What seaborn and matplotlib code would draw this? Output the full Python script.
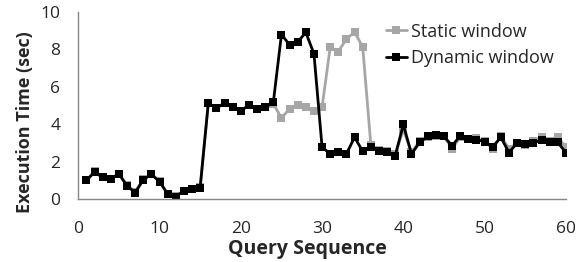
import numpy as np
import pandas as pd
import matplotlib
matplotlib.use("Agg")
import matplotlib.pyplot as plt
import seaborn as sns

# Query numbers 1..60 and execution times
query = list(range(1, 61))
dynamic_window = [1.0, 1.44, 1.16, 1.07, 1.35, 0.71, 0.35, 1.03, 1.32, 0.94,
                  0.27, 0.14, 0.44, 0.53, 0.62, 5.13, 4.87, 5.13, 4.95, 4.72,
                  5.03, 4.81, 4.92, 5.17, 8.80, 8.25, 8.40, 8.91, 7.77, 2.78,
                  2.42, 2.51, 2.42, 3.31, 2.55, 2.81, 2.55, 2.51, 2.32, 3.99,
                  2.41, 3.03, 3.35, 3.44, 3.35, 2.85, 3.39, 3.21, 3.17, 3.08,
                  2.81, 3.30, 2.49, 3.00, 2.96, 3.00, 3.17, 3.03, 3.03, 2.49]
static_window = [1.0, 1.50, 1.20, 1.10, 1.35, 0.75, 0.40, 1.05, 1.35, 0.95,
                 0.30, 0.18, 0.45, 0.55, 0.65, 5.13, 4.87, 5.13, 4.95, 4.72,
                 5.03, 4.81, 4.92, 5.10, 4.33, 4.83, 5.04, 4.95, 4.69, 4.92,
                 8.13, 7.89, 8.56, 8.93, 8.13, 2.90, 2.60, 2.55, 2.40, 3.70,
                 2.50, 3.10, 3.30, 3.40, 3.35, 2.70, 3.30, 3.20, 3.25, 3.10,
                 2.70, 3.35, 2.70, 3.00, 2.90, 3.10, 3.30, 3.10, 3.30, 2.80]

df = pd.DataFrame({
    "Query": query * 2,
    "Time": static_window + dynamic_window,
    "Series": ["Static window"] * 60 + ["Dynamic window"] * 60,
})

sns.set_style("white")
plt.rcParams['font.family'] = ['Open Sans', 'DejaVu Sans']

fig, ax = plt.subplots(figsize=(5.84, 2.62), dpi=100)
sns.lineplot(data=df, x="Query", y="Time", hue="Series", style="Series",
             palette={"Static window": "#a6a6a6", "Dynamic window": "#000000"},
             markers={"Static window": "s", "Dynamic window": "s"},
             dashes=False, markersize=6, markeredgewidth=0, linewidth=2,
             ax=ax)

ax.set_xlim(0, 60)
ax.set_ylim(0, 10)
ax.set_xticks(range(0, 61, 5))
ax.set_xticklabels([str(v) if v % 10 == 0 else "" for v in range(0, 61, 5)])
ax.set_yticks(range(0, 11, 2))
ax.tick_params(axis="both", direction="out", width=1,
               color="#868686", labelsize=12.5)
ax.tick_params(axis="x", length=4, pad=12)
ax.tick_params(axis="y", length=4.5, pad=8.5)
for side in ["top", "right"]:
    ax.spines[side].set_visible(False)
for side in ["left", "bottom"]:
    ax.spines[side].set_color("#868686")
    ax.spines[side].set_linewidth(1)

ax.set_xlabel("Query Sequence", fontsize=14, fontweight="bold", va="top")
ax.xaxis.set_label_coords(0.471, -0.215)
ax.set_ylabel("Execution Time (sec)", fontsize=13, fontweight="bold")
ax.yaxis.set_label_coords(-0.09, 0.41)

leg = ax.legend(loc="upper left", bbox_to_anchor=(0.631, 0.944), frameon=False,
                fontsize=13, handlelength=1.15, handletextpad=0.25,
                labelspacing=0.46, borderaxespad=0, borderpad=0)

fig.subplots_adjust(left=0.134, right=0.969, top=0.954, bottom=0.24)
fig.savefig("out.png", dpi=100)
